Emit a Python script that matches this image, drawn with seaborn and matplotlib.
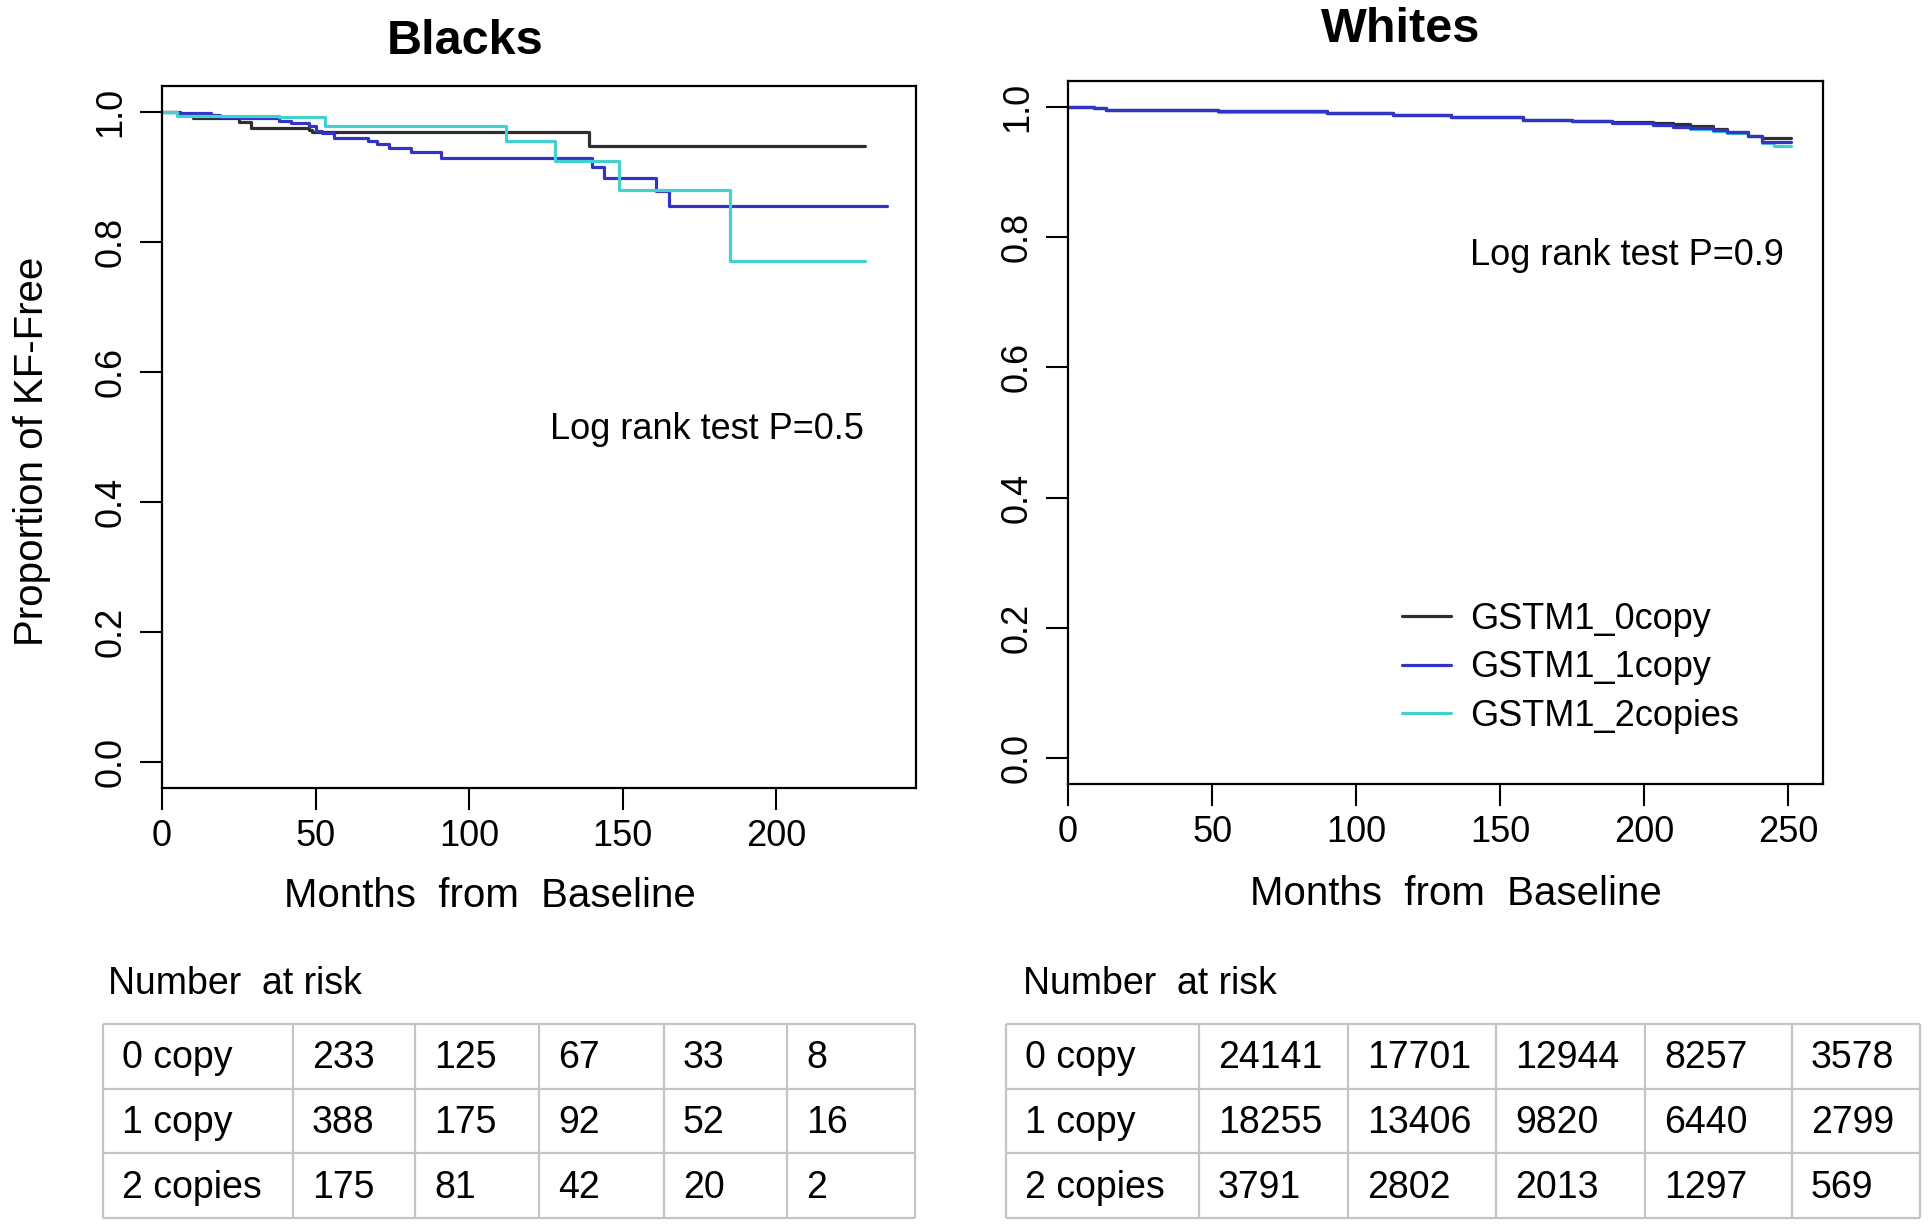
import pandas as pd
import matplotlib
matplotlib.use("Agg")
import matplotlib.pyplot as plt
import seaborn as sns

# Kaplan-Meier step points (months, proportion KF-free)
b0_months = [0, 6, 10, 25, 29, 48, 49, 139, 229]
b0_surv = [1.0, 0.996, 0.991, 0.984, 0.975, 0.972, 0.969, 0.947, 0.947]
b1_months = [0, 5, 16, 19, 26, 38, 42, 48, 50, 52, 56, 67, 70, 74, 81, 91, 140, 144, 161, 165, 236]
b1_surv = [1.0, 0.998, 0.996, 0.993, 0.991, 0.986, 0.983, 0.978, 0.970, 0.967, 0.960,
           0.955, 0.950, 0.945, 0.939, 0.929, 0.915, 0.898, 0.878, 0.856, 0.856]
b2_months = [0, 5, 38, 53, 112, 128, 149, 185, 229]
b2_surv = [1.0, 0.994, 0.992, 0.979, 0.955, 0.924, 0.880, 0.770, 0.770]

w0_months = [0, 9, 13, 52, 90, 113, 133, 158, 175, 189, 203, 210, 216, 224, 229, 236, 241, 251]
w0_surv = [1.0, 0.998, 0.996, 0.994, 0.991, 0.988, 0.984, 0.980, 0.979, 0.977, 0.976,
           0.974, 0.971, 0.967, 0.962, 0.955, 0.952, 0.952]
w1_months = [0, 9, 13, 52, 90, 113, 133, 158, 175, 189, 203, 210, 216, 224, 229, 236, 241, 251]
w1_surv = [1.0, 0.998, 0.996, 0.994, 0.991, 0.988, 0.984, 0.980, 0.978, 0.975, 0.972,
           0.970, 0.968, 0.965, 0.961, 0.956, 0.947, 0.947]
w2_months = [0, 9, 13, 52, 90, 113, 133, 158, 175, 189, 203, 210, 216, 224, 229, 236, 241, 245, 251]
w2_surv = [1.0, 0.998, 0.996, 0.993, 0.991, 0.988, 0.984, 0.980, 0.978, 0.975, 0.972,
           0.970, 0.967, 0.964, 0.960, 0.955, 0.945, 0.940, 0.940]

group_names = ["GSTM1_0copy", "GSTM1_1copy", "GSTM1_2copies"]
row_names = ["0 copy", "1 copy", "2 copies"]

blacks_0copy = [233, 125, 67, 33, 8]
blacks_1copy = [388, 175, 92, 52, 16]
blacks_2copies = [175, 81, 42, 20, 2]
whites_0copy = [24141, 17701, 12944, 8257, 3578]
whites_1copy = [18255, 13406, 9820, 6440, 2799]
whites_2copies = [3791, 2802, 2013, 1297, 569]

colors = {"GSTM1_0copy": "#2e2e2e", "GSTM1_1copy": "#3333c6", "GSTM1_2copies": "#44cfd0"}


def km_frame(curves):
    parts = []
    for name, (t, s) in zip(group_names, curves):
        parts.append(pd.DataFrame({"month": t, "surv": s, "group": name}))
    return pd.concat(parts, ignore_index=True)


dfBlacks = km_frame([(b0_months, b0_surv), (b1_months, b1_surv), (b2_months, b2_surv)])
dfWhites = km_frame([(w0_months, w0_surv), (w1_months, w1_surv), (w2_months, w2_surv)])

sns.set_style("white")
plt.rcParams["font.family"] = ["Liberation Sans", "DejaVu Sans"]
plt.rcParams["text.color"] = "black"
plt.rcParams["axes.labelcolor"] = "black"
plt.rcParams["xtick.color"] = "black"
plt.rcParams["ytick.color"] = "black"

fig = plt.figure(figsize=(19.29, 12.28), dpi=100)
axB = fig.add_axes([0.0840, 0.3583, 0.3909, 0.5717])
axW = fig.add_axes([0.5537, 0.3616, 0.3914, 0.5724])

for ax, df, xmax, ticks in [(axB, dfBlacks, 245.6, [0, 50, 100, 150, 200]),
                            (axW, dfWhites, 262.2, [0, 50, 100, 150, 200, 250])]:
    sns.lineplot(data=df, x="month", y="surv", hue="group", palette=colors,
                 estimator=None, drawstyle="steps-post", linewidth=2.3,
                 legend=(ax is axW), ax=ax)
    ax.set_xlim(0, xmax)
    ax.set_ylim(-0.04, 1.04)
    ax.set_xticks(ticks)
    ax.set_yticks([0, 0.2, 0.4, 0.6, 0.8, 1.0])
    ax.set_yticklabels(["0.0", "0.2", "0.4", "0.6", "0.8", "1.0"])
    ax.tick_params(axis="both", direction="out", length=16, width=1.5,
                   labelsize=26, color="black", labelcolor="black", left=True, bottom=True)
    ax.tick_params(axis="y", labelrotation=90, pad=8)
    ax.tick_params(axis="x", pad=6)
    for lbl in ax.get_yticklabels():
        lbl.set_verticalalignment("center")
    for sp in ax.spines.values():
        sp.set_color("black")
        sp.set_linewidth(1.6)
    ax.set_xlabel("Months  from  Baseline", fontsize=29)
    ax.xaxis.label.set_verticalalignment("center")
    ax.set_ylabel("")

# in the Whites panel the 2-copies curve sits underneath the others
axW.lines[2].set_zorder(1.8)

axB.xaxis.set_label_coords(0.435, -0.154)
axW.xaxis.set_label_coords(0.514, -0.156)

axB.set_ylabel("Proportion of KF-Free", fontsize=29)
axB.yaxis.label.set_verticalalignment("center")
axB.yaxis.set_label_coords(-0.172, 0.479)

axB.text(0.402, 1.064, "Blacks", transform=axB.transAxes, ha="center", va="center",
         fontsize=35, fontweight="bold")
axW.text(0.44, 1.074, "Whites", transform=axW.transAxes, ha="center", va="center",
         fontsize=35, fontweight="bold")

axB.text(0.723, 0.51, "Log rank test P=0.5", transform=axB.transAxes,
         ha="center", va="center", fontsize=26)
axW.text(0.740, 0.752, "Log rank test P=0.9", transform=axW.transAxes,
         ha="center", va="center", fontsize=26)

handles, labels = axW.get_legend_handles_labels()
axW.legend(handles, labels, loc="upper left", bbox_to_anchor=(0.442, 0.259),
           frameon=False, fontsize=26, borderpad=0, borderaxespad=0,
           handlelength=1.35, handletextpad=0.55, labelspacing=0.37)

# number-at-risk tables, drawn in figure pixel space
axT = fig.add_axes([0, 0, 1, 1], zorder=-1)
axT.set_xlim(0, 1929)
axT.set_ylim(1228, 0)
axT.axis("off")

tables = [
    (108, [103, 293, 415, 539, 664, 787, 915], [blacks_0copy, blacks_1copy, blacks_2copies]),
    (1023, [1006, 1199, 1348, 1496, 1645, 1792, 1920], [whites_0copy, whites_1copy, whites_2copies]),
]
row_edges = [1024, 1089, 1153, 1218]
for title_x, cols, rows in tables:
    axT.text(title_x, 984, "Number  at risk", fontsize=27, ha="left", va="center")
    axT.hlines(row_edges, cols[0], cols[-1], color="#c4c4c4", linewidth=1.6)
    axT.vlines(cols, row_edges[0], row_edges[-1], color="#c4c4c4", linewidth=1.6)
    for r, (name, vals) in enumerate(zip(row_names, rows)):
        yc = (row_edges[r] + row_edges[r + 1]) / 2 + 2
        axT.text(cols[0] + 19, yc, name, fontsize=27, ha="left", va="center")
        for c, v in enumerate(vals):
            axT.text(cols[c + 1] + 19, yc, str(v), fontsize=27, ha="left", va="center")

fig.savefig("out.png", dpi=100)
